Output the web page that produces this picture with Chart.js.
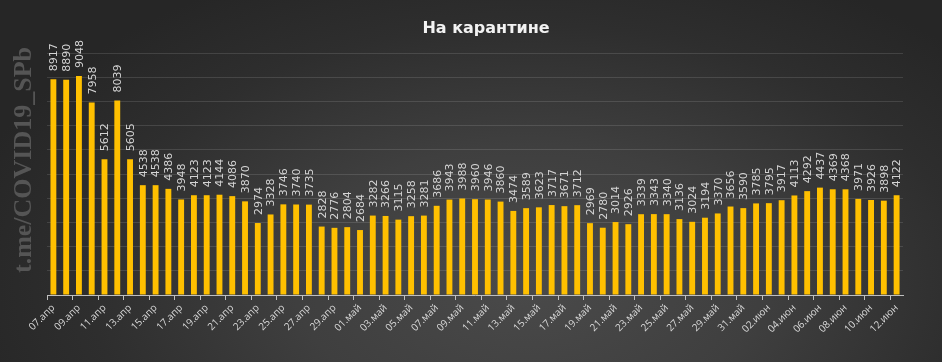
<!DOCTYPE html>
<html>
<head>
<meta charset="utf-8">
<script src="https://cdn.jsdelivr.net/npm/chart.js@4/dist/chart.umd.min.js"></script>
<style>
    html, body { margin: 0; padding: 0; }
    body {
        width: 942px;
        height: 362px;
        overflow: hidden;
        background: radial-gradient(ellipse 62% 95% at 56% 78%, #4a4a4a 0%, #3f3f3f 40%, #2e2e2e 75%, #262626 100%);
    }
    #wrap { position: relative; width: 942px; height: 362px; }
</style>
</head>
<body>
<div id="wrap"><canvas id="chart"></canvas></div>
<script>
// Даты (07.апр – 12.июн)
const dates = [
    "07.апр", "08.апр", "09.апр", "10.апр", "11.апр", "12.апр", "13.апр", "14.апр", "15.апр", "16.апр",
    "17.апр", "18.апр", "19.апр", "20.апр", "21.апр", "22.апр", "23.апр", "24.апр", "25.апр", "26.апр",
    "27.апр", "28.апр", "29.апр", "30.апр",
    "01.май", "02.май", "03.май", "04.май", "05.май", "06.май", "07.май", "08.май", "09.май", "10.май",
    "11.май", "12.май", "13.май", "14.май", "15.май", "16.май", "17.май", "18.май", "19.май", "20.май",
    "21.май", "22.май", "23.май", "24.май", "25.май", "26.май", "27.май", "28.май", "29.май", "30.май",
    "31.май",
    "01.июн", "02.июн", "03.июн", "04.июн", "05.июн", "06.июн", "07.июн", "08.июн", "09.июн", "10.июн",
    "11.июн", "12.июн"
];

// Значения по дням
const quarantine = [
    8917, 8890, 9048, 7958, 5612, 8039, 5605, 4538, 4538, 4386,
    3948, 4123, 4123, 4144, 4086, 3870, 2974, 3328, 3746, 3740,
    3735, 2828, 2776, 2804,
    2684, 3282, 3266, 3115, 3258, 3281, 3686, 3943, 3988, 3960,
    3946, 3860, 3474, 3589, 3623, 3717, 3671, 3712, 2969, 2780,
    3014, 2926, 3339, 3343, 3340, 3136, 3024, 3194, 3370, 3656,
    3590,
    3785, 3795, 3917, 4113, 4292, 4437, 4369, 4368, 3971, 3926,
    3898, 4122
];

const chartTitle = "На карантине";
const watermark = "t.me/COVID19_SPb";

// фон-подпись слева + заголовок
const decorPlugin = {
    id: "decor",
    beforeDraw(chart) {
        const ctx = chart.ctx;
        ctx.save();
        ctx.translate(24, 160);
        ctx.rotate(-Math.PI / 2);
        ctx.font = 'bold 26px "Liberation Serif"';
        ctx.fillStyle = "#555555";
        ctx.textAlign = "center";
        ctx.textBaseline = "middle";
        ctx.fillText(watermark, 0, 0);
        ctx.restore();

        ctx.save();
        ctx.font = 'bold 16px "DejaVu Sans"';
        ctx.fillStyle = "#f2f2f2";
        ctx.textAlign = "center";
        ctx.textBaseline = "middle";
        ctx.fillText(chartTitle, 486, 29);
        ctx.restore();
    },
};

// подписи значений над столбцами
const valueLabels = {
    id: "valueLabels",
    afterDatasetsDraw(chart) {
        const ctx = chart.ctx;
        const meta = chart.getDatasetMeta(0);
        ctx.save();
        ctx.font = '11px "DejaVu Sans"';
        ctx.fillStyle = "#d4d4d4";
        ctx.textAlign = "left";
        ctx.textBaseline = "middle";
        meta.data.forEach((bar, i) => {
            ctx.save();
            ctx.translate(bar.x + 1, bar.y - 8);
            ctx.rotate(-Math.PI / 2);
            ctx.fillText(String(quarantine[i]), 0, 0);
            ctx.restore();
        });
        ctx.restore();
    },
};

const ctx = document.getElementById("chart").getContext("2d");

new Chart(ctx, {
    type: "bar",
    data: {
        labels: dates,
        datasets: [
            {
                label: chartTitle,
                data: quarantine,
                backgroundColor: "#ffc000",
                barPercentage: 0.46,
                categoryPercentage: 1.0,
            },
        ],
    },
    options: {
        responsive: true,
        maintainAspectRatio: false,
        animation: false,
        events: [],
        layout: {
            padding: { top: 53, left: 47, right: 39, bottom: 0 },
        },
        plugins: {
            legend: { display: false },
            title: { display: false },
            tooltip: { enabled: false },
        },
        scales: {
            x: {
                afterFit(scale) { scale.height = 67; },
                border: { display: true, color: "#bfbfbf", width: 1 },
                grid: {
                    offset: true,
                    drawOnChartArea: false,
                    drawTicks: true,
                    tickLength: 5,
                    tickColor: (c) => (c.index % 2 === 0 ? "#bfbfbf" : "rgba(0,0,0,0)"),
                },
                ticks: {
                    autoSkip: false,
                    minRotation: 45,
                    maxRotation: 45,
                    padding: 2,
                    color: "#d9d9d9",
                    font: { family: "Open Sans", size: 10 },
                    callback: function (value, index) {
                        return index % 2 === 0 ? dates[index] : "";
                    },
                },
            },
            y: {
                min: 0,
                max: 10000,
                afterFit(scale) { scale.width = 0; },
                border: { display: false },
                grid: {
                    color: "rgba(255, 255, 255, 0.12)",
                    drawTicks: false,
                },
                ticks: {
                    display: false,
                    stepSize: 1000,
                },
            },
        },
    },
    plugins: [decorPlugin, valueLabels],
});
</script>
</body>
</html>
